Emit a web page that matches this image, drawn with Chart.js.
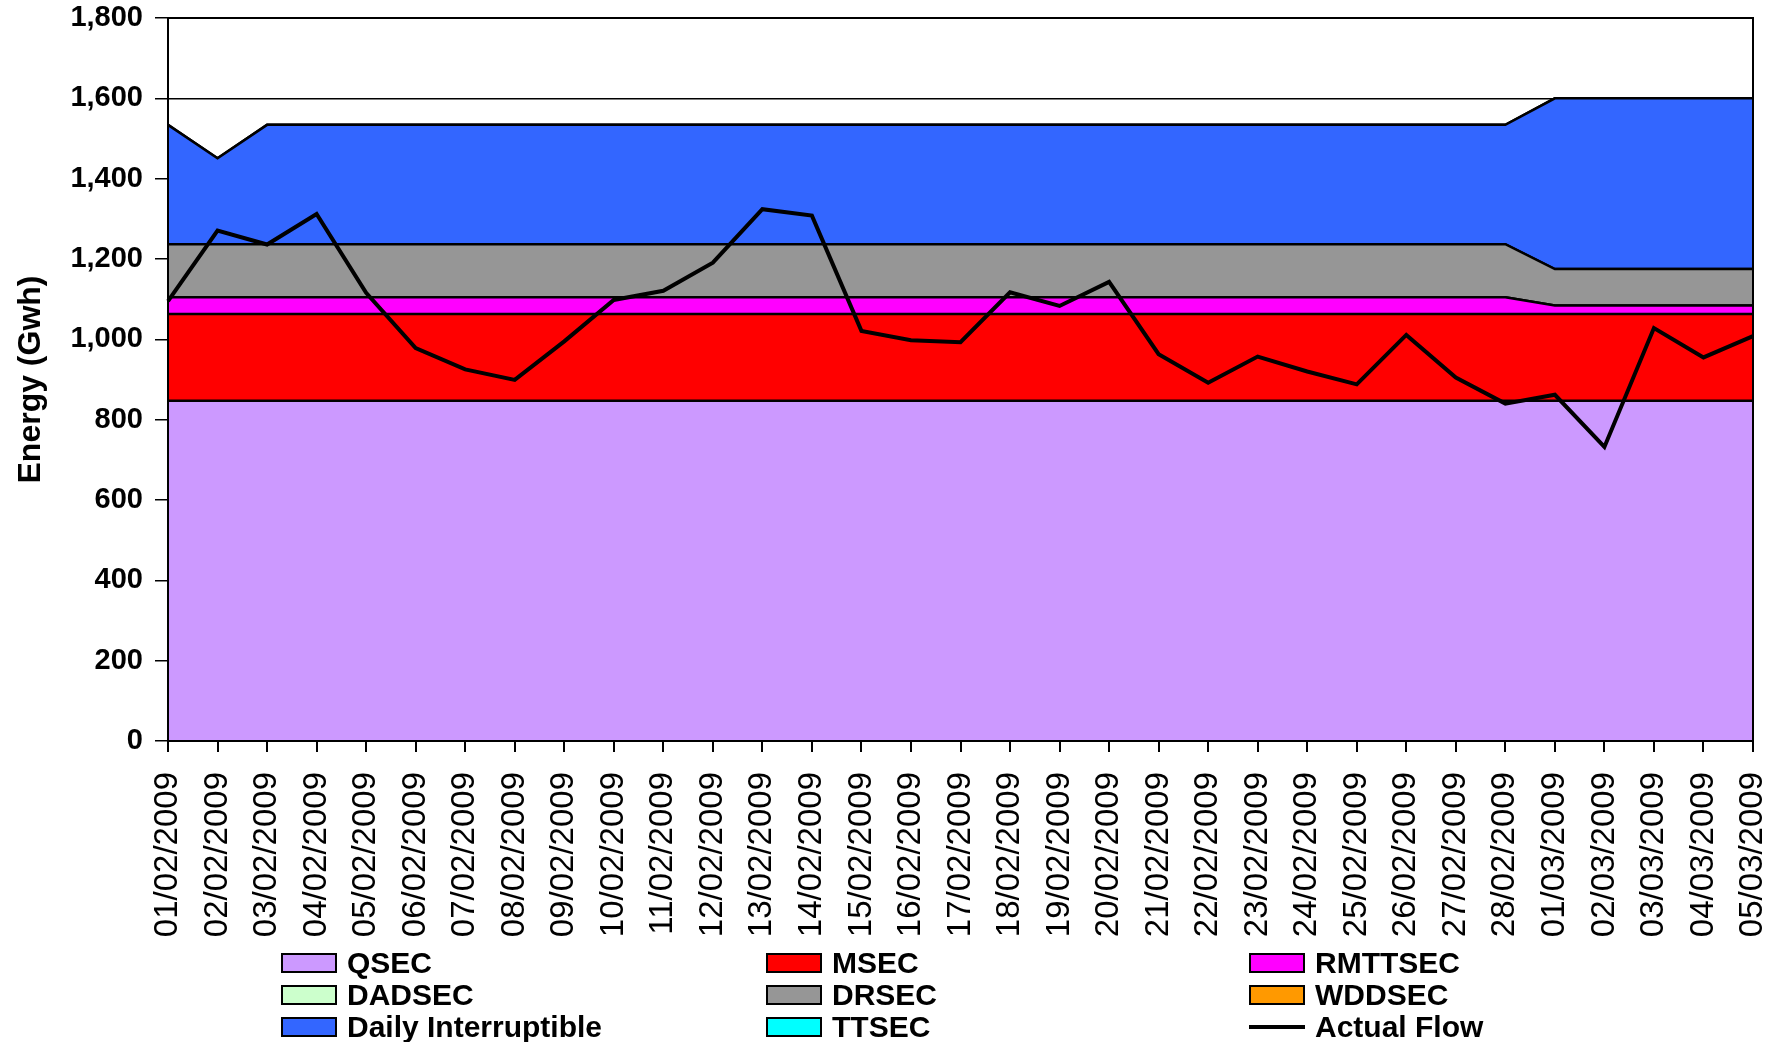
<!DOCTYPE html>
<html>
<head>
<meta charset="utf-8">
<script src="https://cdn.jsdelivr.net/npm/chart.js@4.4.1/dist/chart.umd.min.js"></script>
<style>
  body { margin: 0; background: #fff; }
  #wrap { position: relative; width: 1785px; height: 1042px; }
  #legend { position: absolute; left: 0; top: 0; width: 1785px; height: 1042px; pointer-events: none;
    font-family: "Liberation Sans", Arial, sans-serif; font-weight: bold; font-size: 30px; color: #000; }
  .item { position: absolute; height: 32px; line-height: 32px; white-space: nowrap; }
  .swatch { position: absolute; left: 0; top: 6px; width: 56px; height: 20px; box-sizing: border-box; border: 2px solid #000; }
  .swatch.line { top: 14px; height: 4px; border: 0; background: #000; }
  .label { position: absolute; left: 66px; top: 0; }
</style>
</head>
<body>
<div id="wrap">
  <canvas id="chart" width="1785" height="1042"></canvas>
  <div id="legend"></div>
</div>
<script>
const days = [
  "01/02/2009", "02/02/2009", "03/02/2009", "04/02/2009", "05/02/2009", "06/02/2009", "07/02/2009",
  "08/02/2009", "09/02/2009", "10/02/2009", "11/02/2009", "12/02/2009", "13/02/2009", "14/02/2009",
  "15/02/2009", "16/02/2009", "17/02/2009", "18/02/2009", "19/02/2009", "20/02/2009", "21/02/2009",
  "22/02/2009", "23/02/2009", "24/02/2009", "25/02/2009", "26/02/2009", "27/02/2009", "28/02/2009",
  "01/03/2009", "02/03/2009", "03/03/2009", "04/03/2009", "05/03/2009"
];

const qsec = [847, 847, 847, 847, 847, 847, 847, 847, 847, 847, 847, 847, 847, 847, 847, 847, 847,
  847, 847, 847, 847, 847, 847, 847, 847, 847, 847, 847, 847, 847, 847, 847, 847];
const msec = [216, 216, 216, 216, 216, 216, 216, 216, 216, 216, 216, 216, 216, 216, 216, 216, 216,
  216, 216, 216, 216, 216, 216, 216, 216, 216, 216, 216, 216, 216, 216, 216, 216];
const rmttsec = [42, 42, 42, 42, 42, 42, 42, 42, 42, 42, 42, 42, 42, 42, 42, 42, 42,
  42, 42, 42, 42, 42, 42, 42, 42, 42, 42, 42, 21, 21, 21, 21, 21];
const dadsec = [0, 0, 0, 0, 0, 0, 0, 0, 0, 0, 0, 0, 0, 0, 0, 0, 0,
  0, 0, 0, 0, 0, 0, 0, 0, 0, 0, 0, 0, 0, 0, 0, 0];
const drsec = [132, 132, 132, 132, 132, 132, 132, 132, 132, 132, 132, 132, 132, 132, 132, 132, 132,
  132, 132, 132, 132, 132, 132, 132, 132, 132, 132, 132, 91, 91, 91, 91, 91];
const wddsec = [0, 0, 0, 0, 0, 0, 0, 0, 0, 0, 0, 0, 0, 0, 0, 0, 0,
  0, 0, 0, 0, 0, 0, 0, 0, 0, 0, 0, 0, 0, 0, 0, 0];
const dailyInt = [297, 214, 297, 297, 297, 297, 297, 297, 297, 297, 297, 297, 297, 297, 297, 297, 297,
  297, 297, 297, 297, 297, 297, 297, 297, 297, 297, 297, 425, 425, 425, 425, 425];
const ttsec = [0, 0, 0, 0, 0, 0, 0, 0, 0, 0, 0, 0, 0, 0, 0, 0, 0,
  0, 0, 0, 0, 0, 0, 0, 0, 0, 0, 0, 0, 0, 0, 0, 0];
const actualFlow = [1095, 1271, 1236, 1312, 1116, 978, 925, 899, 995, 1098, 1121, 1191, 1324, 1308,
  1021, 998, 993, 1117, 1083, 1143, 963, 892, 957, 920, 888, 1011, 905, 840, 862, 732, 1028, 955, 1008];

const yTicks = [0, 200, 400, 600, 800, 1000, 1200, 1400, 1600, 1800];

const FONT = "'Liberation Sans', Arial, sans-serif";

function area(label, data, color, first) {
  return {
    label, data, stack: "areas", order: 1,
    backgroundColor: color, borderColor: "#000", borderWidth: 2.5,
    fill: first ? "origin" : "-1", pointRadius: 0, tension: 0
  };
}

const datasets = [
  area("QSEC", qsec, "#CC99FF", true),
  area("MSEC", msec, "#FF0000"),
  area("RMTTSEC", rmttsec, "#FF00FF"),
  area("DADSEC", dadsec, "#CCFFCC"),
  area("DRSEC", drsec, "#969696"),
  area("WDDSEC", wddsec, "#FF9900"),
  area("Daily Interruptible", dailyInt, "#3366FF"),
  area("TTSEC", ttsec, "#00FFFF"),
  {
    label: "Actual Flow", data: actualFlow, stack: "flow", order: 0,
    borderColor: "#000", borderWidth: 4, fill: false, pointRadius: 0, tension: 0
  }
];

const frame = {
  id: "frame",
  afterDatasetsDraw(chart) {
    const { ctx, chartArea: a } = chart;
    ctx.save();
    ctx.strokeStyle = "#000";
    ctx.lineWidth = 2;
    ctx.strokeRect(a.left, a.top, a.right - a.left, a.bottom - a.top);
    ctx.restore();
  }
};

new Chart(document.getElementById("chart"), {
  type: "line",
  data: { labels: days, datasets },
  options: {
    responsive: false,
    animation: false,
    layout: { padding: { left: 0, right: 32, top: 18, bottom: 97 } },
    plugins: { legend: { display: false }, tooltip: { enabled: false } },
    scales: {
      x: {
        stacked: true,
        offset: false,
        grid: { drawOnChartArea: false, drawTicks: true, tickLength: 11, color: "#000", lineWidth: 2 },
        border: { color: "#000", width: 2 },
        ticks: {
          autoSkip: false, maxRotation: 90, minRotation: 90, padding: 20,
          color: "#000", font: { family: FONT, size: 33 }
        },
        afterFit: (s) => { s.height = 204; s.paddingLeft = 0; s.paddingRight = 0; }
      },
      y: {
        stacked: true,
        min: 0, max: 1800,
        afterBuildTicks: (s) => { s.ticks = yTicks.map((v) => ({ value: v })); },
        grid: { color: "#000", lineWidth: 1.5, tickLength: 13 },
        border: { color: "#000", width: 2 },
        ticks: {
          padding: 12, color: "#000",
          font: { family: FONT, size: 29, weight: "bold" },
          callback: (v) => v.toLocaleString("en-US")
        },
        title: {
          display: true, text: "Energy (Gwh)", color: "#000",
          font: { family: FONT, size: 32, weight: "bold" },
          padding: { top: 12, bottom: 0 }
        },
        afterFit: (s) => { s.width = 168; s.paddingTop = 0; s.paddingBottom = 0; }
      }
    }
  },
  plugins: [frame]
});

// legend laid out in three columns like the original
const legendCols = [281, 766, 1249];
const legendRows = [947, 979, 1011];
const legendEl = document.getElementById("legend");
datasets.forEach((ds, i) => {
  const item = document.createElement("div");
  item.className = "item";
  item.style.left = legendCols[i % 3] + "px";
  item.style.top = legendRows[Math.floor(i / 3)] + "px";
  const sw = document.createElement("div");
  sw.className = ds.fill === false ? "swatch line" : "swatch";
  if (ds.fill !== false) sw.style.background = ds.backgroundColor;
  const lb = document.createElement("div");
  lb.className = "label";
  lb.textContent = ds.label;
  item.appendChild(sw);
  item.appendChild(lb);
  legendEl.appendChild(item);
});
</script>
</body>
</html>
